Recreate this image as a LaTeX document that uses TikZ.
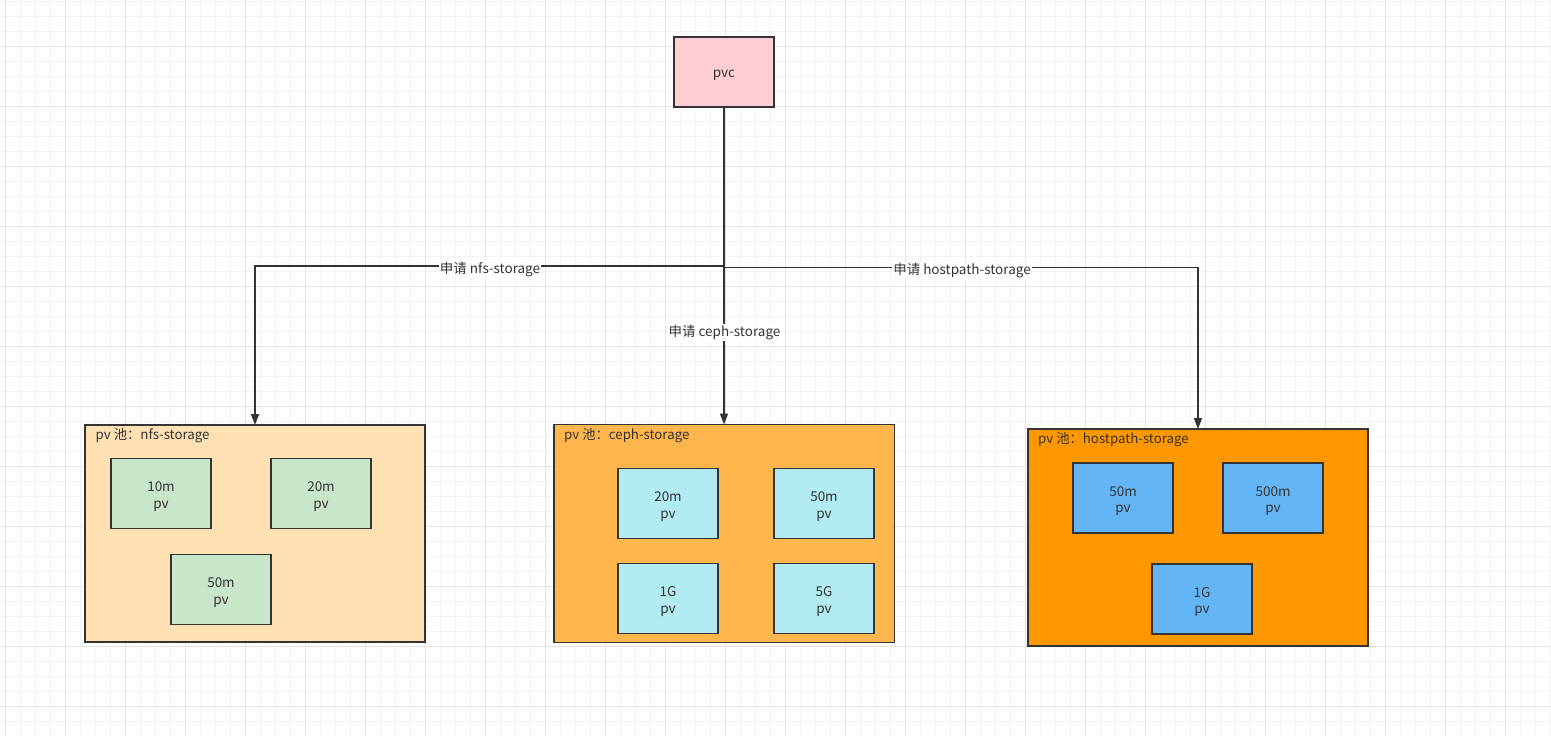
\documentclass[tikz,border=0pt]{standalone}
\usepackage{fontspec}
\setmainfont{Noto Sans CJK SC}
\usetikzlibrary{arrows.meta}
\definecolor{txt}{HTML}{333333}
\definecolor{edge}{HTML}{333333}
\definecolor{gridminor}{HTML}{F3F3F3}
\definecolor{gridmajor}{HTML}{E4E4E4}
\definecolor{pvcfill}{HTML}{FFCDD2}
\definecolor{nfsfill}{HTML}{FFE0B2}
\definecolor{cephfill}{HTML}{FFB74D}
\definecolor{hostfill}{HTML}{FF9800}
\definecolor{nfspv}{HTML}{C8E6C9}
\definecolor{cephpv}{HTML}{B2EBF2}
\definecolor{hostpv}{HTML}{64B5F6}
\tikzset{
  box/.style={draw=edge, line width=1.5pt, rectangle, inner sep=0pt, outer sep=0pt},
  boxtext/.style={text=txt, font=\fontsize{13.5}{16.5}\selectfont, align=center, inner sep=0pt, yshift=-3pt},
  pvbox/.style={box, minimum width=100pt, minimum height=70pt},
  poolbox/.style={box, minimum width=340pt, minimum height=217pt},
  poollabel/.style={anchor=west, inner sep=0pt, text=txt, font=\fontsize{13.3}{15}\selectfont},
  conn/.style={draw=edge, line width=1.5pt, -{Triangle[width=8pt,length=11pt]}},
  elabel/.style={fill=white, inner sep=1pt, text=txt, font=\fontsize{13.5}{15}\selectfont}
}
\begin{document}
\begin{tikzpicture}[x=1pt,y=-1pt]
\useasboundingbox (0,0) rectangle (1551,736);
\fill[white] (0,0) rectangle (1551,736);
% grid
\foreach \gx in {5,20,...,1550} {\draw[gridminor, line width=1pt] (\gx,0) -- (\gx,736);}
\foreach \gy in {1,16,...,736} {\draw[gridminor, line width=1pt] (0,\gy) -- (1551,\gy);}
\foreach \gx in {5,65,...,1550} {\draw[gridmajor, line width=1pt] (\gx,0) -- (\gx,736);}
\foreach \gy in {46,106,...,736} {\draw[gridmajor, line width=1pt] (0,\gy) -- (1551,\gy);}

% pvc
\node[box, fill=pvcfill, minimum width=100pt, minimum height=70pt, label={[boxtext, yshift=-0.5pt]center:pvc}] (pvc) at (724,72) {};

% pools
\node[poolbox, fill=nfsfill] (nfs) at (255,533.5) {};
\node[poolbox, fill=cephfill, minimum width=340.5pt, minimum height=218pt] (ceph) at (724,533.5) {};
\node[poolbox, fill=hostfill] (host) at (1198,537.5) {};

\node[poollabel] (nfsl) at (95.5,435.5) {pv 池：nfs-storage};
\node[poollabel] (cephl) at (564,435.5) {pv 池：ceph-storage};
\node[poollabel] (hostl) at (1038,439.5) {pv 池：hostpath-storage};

% nfs pvs
\node[pvbox, fill=nfspv, label={[boxtext]center:10m\\pv}] (n1) at (161,493.5) {};
\node[pvbox, fill=nfspv, label={[boxtext]center:20m\\pv}] (n2) at (321,493.5) {};
\node[pvbox, fill=nfspv, label={[boxtext]center:50m\\pv}] (n3) at (221,589.5) {};

% ceph pvs
\node[pvbox, fill=cephpv, label={[boxtext]center:20m\\pv}] (c1) at (668,503.5) {};
\node[pvbox, fill=cephpv, label={[boxtext]center:50m\\pv}] (c2) at (824,503.5) {};
\node[pvbox, fill=cephpv, label={[boxtext]center:1G\\pv}] (c3) at (668,598.5) {};
\node[pvbox, fill=cephpv, label={[boxtext]center:5G\\pv}] (c4) at (824,598.5) {};

% hostpath pvs
\node[pvbox, fill=hostpv, label={[boxtext]center:50m\\pv}] (h1) at (1123,498) {};
\node[pvbox, fill=hostpv, label={[boxtext]center:500m\\pv}] (h2) at (1273,498) {};
\node[pvbox, fill=hostpv, label={[boxtext]center:1G\\pv}] (h3) at (1202,599) {};

% connectors
\coordinate (jl) at (724,266);
\coordinate (jr) at (724,267.5);
\draw[conn] (pvc.south) -- (jl) -| (nfs.north);
\draw[conn] (pvc.south) -- (ceph.north);
\draw[conn] (jr) -| (host.north);

\node[elabel] (lnfs) at (490,269.5) {申请 nfs-storage};
\node[elabel] (lceph) at (724.5,332.5) {申请 ceph-storage};
\node[elabel] (lhost) at (962,270.5) {申请 hostpath-storage};
\end{tikzpicture}
\end{document}
